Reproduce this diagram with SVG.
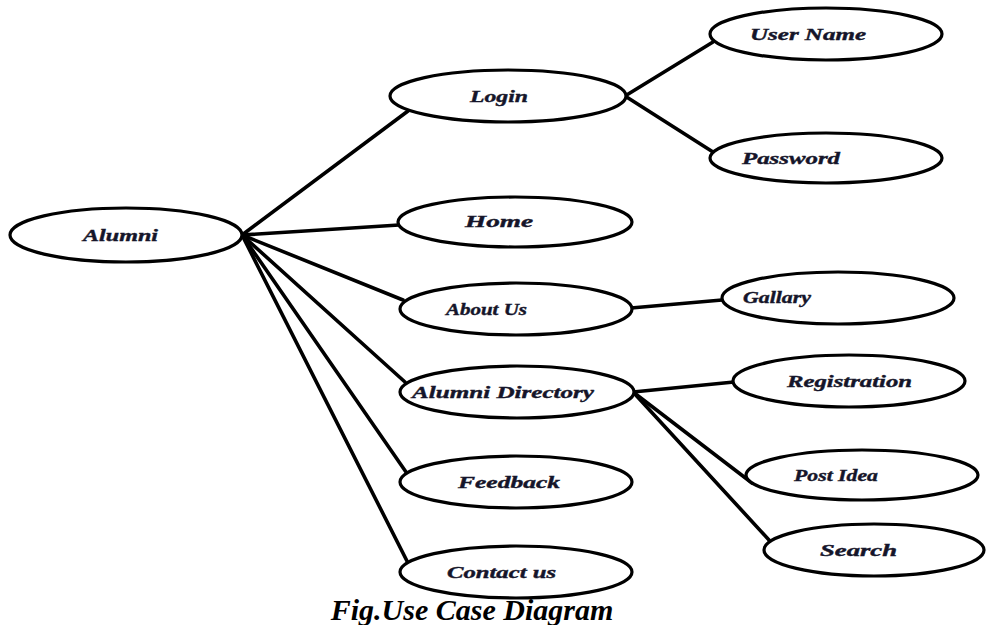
<svg xmlns="http://www.w3.org/2000/svg" width="986" height="625" viewBox="0 0 986 625">
<style>
.uc ellipse{fill:#fff;stroke:#000;stroke-width:3.2}
.uc text{font-family:"Liberation Serif","Times New Roman",serif;font-weight:bold;font-style:italic;font-size:17px;fill:#15152a;stroke:#15152a;stroke-width:0.4}
#connectors line{stroke:#000;stroke-width:3.6;stroke-linecap:round}
.cap{font-family:"Liberation Serif","Times New Roman",serif;font-weight:bold;font-style:italic;font-size:30px;fill:#000}
</style>
<rect width="986" height="625" fill="#fff"/>
<g id="connectors">
<line x1="242" y1="235" x2="408" y2="111"/>
<line x1="242" y1="235" x2="399" y2="225"/>
<line x1="242" y1="235" x2="403" y2="300"/>
<line x1="242" y1="235" x2="405" y2="382"/>
<line x1="242" y1="235" x2="406" y2="472"/>
<line x1="242" y1="235" x2="408" y2="563"/>
<line x1="625" y1="96" x2="713" y2="42"/>
<line x1="625" y1="96" x2="713" y2="152"/>
<line x1="631" y1="308" x2="722" y2="300"/>
<line x1="633" y1="392" x2="734" y2="382"/>
<line x1="633" y1="392" x2="752" y2="483"/>
<line x1="633" y1="392" x2="769" y2="540"/>
</g>
<g id="alumni" class="uc"><ellipse cx="126" cy="235" rx="116" ry="27"/><text x="83" y="241" textLength="75" lengthAdjust="spacingAndGlyphs">Alumni</text></g>
<g id="login" class="uc"><ellipse cx="508" cy="96" rx="118" ry="26"/><text x="470" y="102" textLength="58" lengthAdjust="spacingAndGlyphs">Login</text></g>
<g id="username" class="uc"><ellipse cx="826" cy="34" rx="116" ry="26"/><text x="750" y="40" textLength="116" lengthAdjust="spacingAndGlyphs">User Name</text></g>
<g id="password" class="uc"><ellipse cx="826" cy="158" rx="116" ry="25"/><text x="742" y="164" textLength="98" lengthAdjust="spacingAndGlyphs">Password</text></g>
<g id="home" class="uc"><ellipse cx="515" cy="222" rx="117" ry="25"/><text x="465" y="227" textLength="68" lengthAdjust="spacingAndGlyphs">Home</text></g>
<g id="aboutus" class="uc"><ellipse cx="516" cy="309" rx="116" ry="26"/><text x="446" y="315" textLength="81" lengthAdjust="spacingAndGlyphs">About Us</text></g>
<g id="gallary" class="uc"><ellipse cx="838" cy="298" rx="116" ry="26"/><text x="743" y="303" textLength="68" lengthAdjust="spacingAndGlyphs">Gallary</text></g>
<g id="alumnidirectory" class="uc"><ellipse cx="517" cy="392" rx="117" ry="26"/><text x="412" y="398" textLength="182" lengthAdjust="spacingAndGlyphs">Alumni Directory</text></g>
<g id="registration" class="uc"><ellipse cx="849" cy="381" rx="116" ry="26"/><text x="787" y="387" textLength="125" lengthAdjust="spacingAndGlyphs">Registration</text></g>
<g id="postidea" class="uc"><ellipse cx="862" cy="475" rx="116" ry="25"/><text x="794" y="481" textLength="84" lengthAdjust="spacingAndGlyphs">Post Idea</text></g>
<g id="feedback" class="uc"><ellipse cx="516" cy="482" rx="116" ry="26"/><text x="458" y="488" textLength="102" lengthAdjust="spacingAndGlyphs">Feedback</text></g>
<g id="search" class="uc"><ellipse cx="874" cy="550" rx="110" ry="26"/><text x="820" y="556" textLength="77" lengthAdjust="spacingAndGlyphs">Search</text></g>
<g id="contactus" class="uc"><ellipse cx="516" cy="572" rx="116" ry="26"/><text x="447" y="578" textLength="109" lengthAdjust="spacingAndGlyphs">Contact us</text></g>
<text class="cap" x="472" y="620" text-anchor="middle">Fig.Use Case Diagram</text>
</svg>
